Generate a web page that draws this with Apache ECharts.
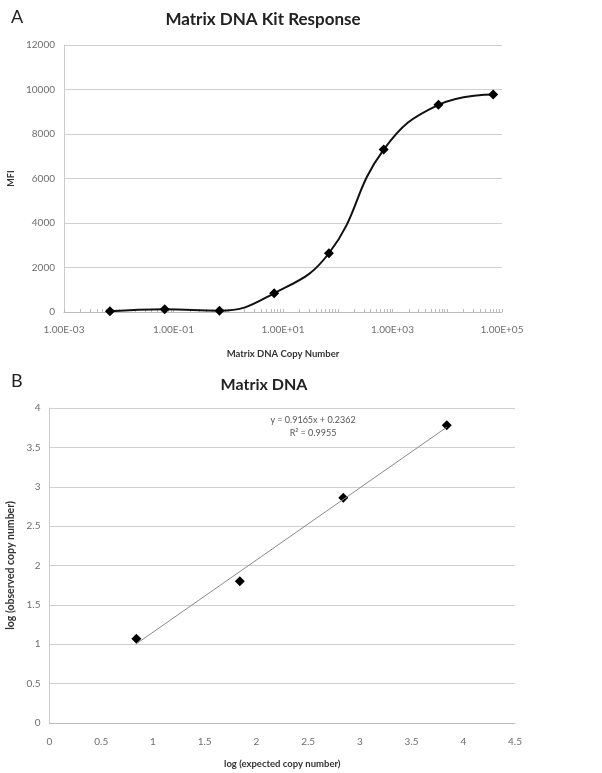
<!DOCTYPE html>
<html>
<head>
<meta charset="utf-8">
<script src="https://cdn.jsdelivr.net/npm/echarts@6/dist/echarts.min.js"></script>
<style>html,body{margin:0;padding:0;background:#fff}#c{width:602px;height:773px}</style>
</head>
<body>
<div id="c"></div>
<script>
// Panel A: Matrix DNA Kit Response
const copyNumbers = [0.0069, 0.069, 0.69, 6.9, 69, 690, 6900, 69000];
const mfiValues = [30, 120, 60, 840, 2640, 7300, 9310, 9780];
const xLabelValuesA = [0.001, 0.1, 10, 1000, 100000];

// Panel B: Matrix DNA (log-log)
const logExpected = [0.84, 1.84, 2.84, 3.84];
const logObserved = [1.07, 1.80, 2.86, 3.78];
const trendSlope = 0.9165;
const trendIntercept = 0.2362;
const trendRSquared = 0.9955;

const FONT = 'Lato, "Open Sans", sans-serif';
const GRAY = '#6e6e6e';

// minor ticks for log axis: 1..9 x 10^k
const minorTickValues = [];
for (let e = -3; e < 5; e++) {
  for (let m = 1; m <= 9; m++) minorTickValues.push(m * Math.pow(10, e));
}
minorTickValues.push(100000);

function sciLabel(v) {
  const s = Number(v).toExponential(2).toUpperCase();
  const parts = s.split('E');
  let exp = parseInt(parts[1], 10);
  const sign = exp < 0 ? '-' : '+';
  exp = Math.abs(exp);
  return parts[0] + 'E' + sign + (exp < 10 ? '0' + exp : '' + exp);
}
function plainLabel(v) { return String(v); }

const trendX = [logExpected[0], logExpected[logExpected.length - 1]];
const trendData = trendX.map(x => [x, trendSlope * x + trendIntercept]);

const chart = echarts.init(document.getElementById('c'), null, {renderer: 'canvas'});
chart.setOption({
  backgroundColor: '#fff',
  animation: false,
  textStyle: {fontFamily: FONT},
  title: [
    {text: 'Matrix DNA Kit Response', left: 258, top: 6, textAlign: 'center',
     textStyle: {fontFamily: FONT, fontSize: 17, fontWeight: 'bold', color: '#222'}},
    {text: 'Matrix DNA', left: 259, top: 372, textAlign: 'center',
     textStyle: {fontFamily: FONT, fontSize: 16, fontWeight: 'bold', color: '#222'}}
  ],
  graphic: [
    {type: 'text', left: 11, top: 8, style: {text: 'A', fontFamily: FONT, fontSize: 18, fill: '#222'}},
    {type: 'text', left: 11, top: 372, style: {text: 'B', fontFamily: FONT, fontSize: 18, fill: '#222'}},
    {type: 'text', x: 313, y: 414, style: {
      text: 'y = ' + trendSlope.toFixed(4) + 'x + ' + trendIntercept.toFixed(4) + '\nR² = ' + trendRSquared.toFixed(4),
      fontFamily: FONT, fontSize: 9, fill: '#555', align: 'center', lineHeight: 13}}
  ],
  grid: [
    {left: 64, right: 100, top: 45, height: 267, outerBoundsMode: 'none', containLabel: false},
    {left: 49.5, right: 87, top: 408, height: 315, outerBoundsMode: 'none', containLabel: false}
  ],
  xAxis: [
    {
      gridIndex: 0, type: 'log', logBase: 10, min: 0.001, max: 100000,
      name: 'Matrix DNA Copy Number', nameLocation: 'middle', nameGap: 37,
      nameTextStyle: {fontFamily: FONT, fontSize: 9.5, fontWeight: 'bold', color: '#333'},
      axisLine: {lineStyle: {color: '#bbb', width: 1}},
      axisTick: {show: true, inside: true, length: 3, customValues: minorTickValues, lineStyle: {color: '#bbb'}},
      axisLabel: {customValues: xLabelValuesA, formatter: sciLabel, margin: 13, fontSize: 10, color: GRAY, fontFamily: FONT},
      splitLine: {show: false}
    },
    {
      gridIndex: 1, type: 'value', min: 0, max: 4.5, interval: 0.5,
      name: 'log (expected copy number)', nameLocation: 'middle', nameGap: 36,
      nameTextStyle: {fontFamily: FONT, fontSize: 9.5, fontWeight: 'bold', color: '#333'},
      axisLine: {lineStyle: {color: '#bbb', width: 1}},
      axisTick: {show: false},
      axisLabel: {formatter: plainLabel, margin: 14, fontSize: 10, color: GRAY, fontFamily: FONT},
      splitLine: {show: false}
    }
  ],
  yAxis: [
    {
      gridIndex: 0, type: 'value', min: 0, max: 12000, interval: 2000,
      name: 'MFI', nameLocation: 'middle', nameGap: 46,
      nameTextStyle: {fontFamily: FONT, fontSize: 9, fontWeight: 'bold', color: '#333'},
      axisLine: {show: true, lineStyle: {color: '#ccc', width: 1}},
      axisTick: {show: false},
      axisLabel: {formatter: plainLabel, margin: 9, fontSize: 10, color: GRAY, fontFamily: FONT},
      splitLine: {show: true, lineStyle: {color: '#cfcfcf', width: 1}}
    },
    {
      gridIndex: 1, type: 'value', min: 0, max: 4, interval: 0.5,
      name: 'log (observed copy number)', nameLocation: 'middle', nameGap: 32,
      nameTextStyle: {fontFamily: FONT, fontSize: 10.5, fontWeight: 'bold', color: '#333'},
      axisLine: {show: true, lineStyle: {color: '#ccc', width: 1}},
      axisTick: {show: false},
      axisLabel: {formatter: plainLabel, margin: 9, fontSize: 10, color: GRAY, fontFamily: FONT},
      splitLine: {show: true, lineStyle: {color: '#cfcfcf', width: 1}}
    }
  ],
  series: [
    {
      type: 'line', xAxisIndex: 0, yAxisIndex: 0,
      data: copyNumbers.map((x, i) => [x, mfiValues[i]]),
      smooth: 0.45,
      symbol: 'diamond', symbolSize: 10, showSymbol: true,
      lineStyle: {color: '#111', width: 2},
      itemStyle: {color: '#000'}
    },
    {
      type: 'line', xAxisIndex: 1, yAxisIndex: 1,
      data: trendData, symbol: 'none',
      lineStyle: {color: '#8a8a8a', width: 1}
    },
    {
      type: 'scatter', xAxisIndex: 1, yAxisIndex: 1,
      data: logExpected.map((x, i) => [x, logObserved[i]]),
      symbol: 'diamond', symbolSize: 10,
      itemStyle: {color: '#000', opacity: 1}
    }
  ]
});
</script>
</body>
</html>
